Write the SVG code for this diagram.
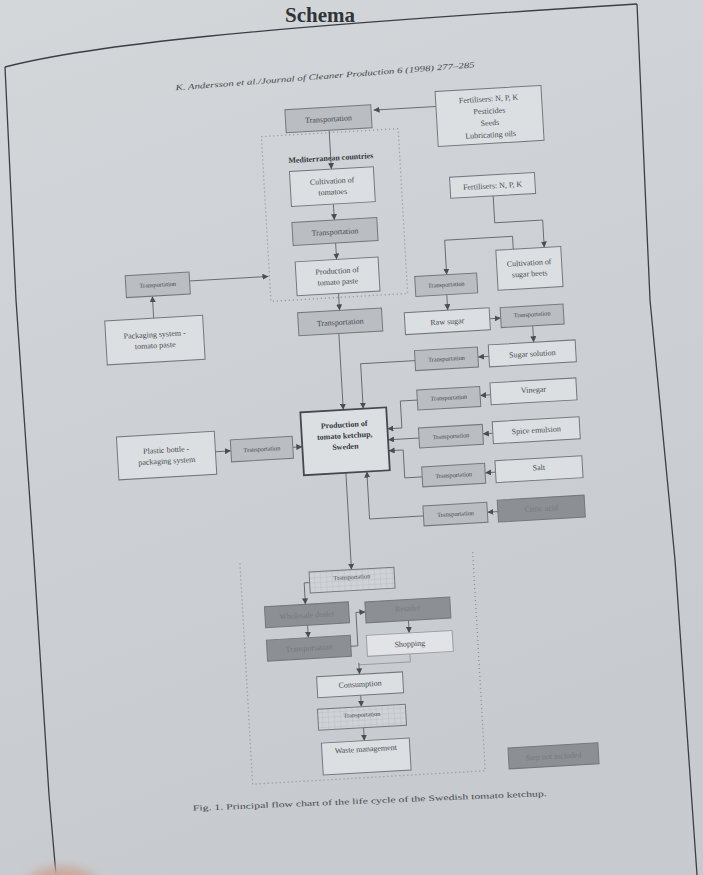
<svg xmlns="http://www.w3.org/2000/svg" width="703" height="875" viewBox="0 0 703 875">
<defs>
<style>
.box{fill:#dcdfe2;stroke:#74777c;stroke-width:1}
.sh{fill:#babdc1;stroke:#74777c;stroke-width:1}
.dk{fill:#8c9095;stroke:#74777c;stroke-width:1}
.hg{fill:url(#grid);stroke:#74777c;stroke-width:1}
.t{font-family:"Liberation Serif","Times New Roman",serif;fill:#46494e;text-anchor:middle;font-size:8px}
.s6{font-size:6.3px}
.dt{fill:#74787e}
.b{font-weight:bold;fill:#36393e}
.c{fill:none;stroke:#606368;stroke-width:0.9}
.ca{fill:none;stroke:#606368;stroke-width:0.9;marker-end:url(#ah)}
.dot{fill:none;stroke:#8c8f94;stroke-width:1.3;stroke-dasharray:1 3}
.frame{fill:none;stroke:#3c3f44;stroke-width:1.3}
</style>
<marker id="ah" viewBox="0 0 10 10" refX="10" refY="5" markerWidth="6" markerHeight="6" markerUnits="userSpaceOnUse" orient="auto">
<path d="M0,0 L10,5 L0,10 z" fill="#4a4d52"/>
</marker>
<pattern id="grid" width="6" height="5" patternUnits="userSpaceOnUse">
<rect width="6" height="5" fill="#cfd2d6"/>
<path d="M0,0 H6 M0,0 V5" stroke="#aeb1b5" stroke-width="0.6"/>
</pattern>
<linearGradient id="bg" x1="0" y1="0" x2="0.3" y2="1">
<stop offset="0" stop-color="#d4d7da"/>
<stop offset="1" stop-color="#c7cace"/>
</linearGradient>
<filter id="blur"><feGaussianBlur stdDeviation="5"/></filter>
</defs>
<rect width="703" height="875" fill="url(#bg)"/>
<text x="320" y="22" font-family="Liberation Serif, serif" font-weight="bold" font-size="21" fill="#303338" text-anchor="middle">Schema</text>
<g id="page-frame">
<path class="frame" d="M5,67 C90,45 250,28 637,4"/>
<path class="frame" d="M637,4 L650,300 L675,560 L697,875"/>
<path class="frame" d="M5,67 L16,300 L34,560 L49,795 L56,875"/>
</g>
<ellipse cx="62" cy="892" rx="40" ry="26" fill="#c9aa9f" filter="url(#blur)"/>

<g id="diagram" transform="rotate(-3.3 350 440)">
<text class="t" x="346" y="78" font-style="italic" font-size="9.5" textLength="300" lengthAdjust="spacingAndGlyphs" transform="rotate(-1.1 346 75)">K. Andersson et al./Journal of Cleaner Production 6 (1998) 277–285</text>

<g id="regions">
<rect class="dot" x="279" y="132" width="137" height="165"/>
<path class="dot" d="M233,557 V778 H466 V557"/>
</g>

<g id="connectors">
<path class="ca" d="M455,112 H392.5"/>
<path class="ca" d="M347,129.5 V168.5"/>
<path class="ca" d="M347,203.5 V219.5"/>
<path class="ca" d="M347,242.5 V259"/>
<path class="ca" d="M347,293 V310"/>
<path class="ca" d="M345,333 V409.5"/>
<path class="ca" d="M199,272 H278"/>
<path class="ca" d="M161,307 V285"/>
<path class="ca" d="M215,444 H230.5"/>
<path class="ca" d="M292.5,444 H302"/>
<path class="ca" d="M507,204.5 V231.5 H555 V259"/>
<path class="ca" d="M524,259 V246 H456 V280.5"/>
<path class="ca" d="M455,300.5 V316"/>
<path class="ca" d="M496.5,327 H507.5"/>
<path class="ca" d="M539,336.5 V353"/>
<path class="ca" d="M493.5,364.5 H482.5"/>
<path class="ca" d="M419.5,364.5 H365 V409.5"/>
<path class="ca" d="M493,403 H482.5"/>
<path class="ca" d="M419.5,404 H402.5 V431 H388"/>
<path class="ca" d="M493,441.5 H483"/>
<path class="ca" d="M419,442 H388"/>
<path class="ca" d="M493.5,480.5 H483"/>
<path class="ca" d="M420,481 H402.5 V453 H388"/>
<path class="ca" d="M493.5,520 H483"/>
<path class="ca" d="M419,520 H365 V472.5"/>
<path class="ca" d="M344,472.5 V569.5"/>
<path class="ca" d="M301.5,580 H296 V601.5"/>
<path class="ca" d="M297,622.5 V635"/>
<path class="ca" d="M339,646 H346 V612.5 H355.5"/>
<path class="ca" d="M398,623.5 V636"/>
<path class="c" d="M397.5,657 V665 H346" stroke-opacity="0.5"/>
<path class="ca" d="M346,663 V674.5"/>
<path class="ca" d="M346,695.5 V707"/>
<path class="ca" d="M347,728 V741"/>
</g>

<text class="t b" x="347" y="160" font-size="10.5">Mediterranean countries</text>

<g id="n_t_top"><rect class="sh" x="304" y="106.5" width="86" height="23"/><text class="t" x="347" y="121">Transportation</text></g>
<g id="n_fert_main"><rect class="box" x="455" y="97" width="106" height="55"/>
<text class="t" x="508" y="110">Fertilisers: N, P, K</text><text class="t" x="508" y="122">Pesticides</text><text class="t" x="508" y="134">Seeds</text><text class="t" x="508" y="146">Lubricating oils</text></g>
<g id="n_cult_tom"><rect class="box" x="305" y="168.5" width="84" height="35"/><text class="t" x="347" y="183">Cultivation of</text><text class="t" x="347" y="194">tomatoes</text></g>
<g id="n_t2"><rect class="sh" x="304.5" y="219.5" width="85" height="23"/><text class="t" x="347" y="234">Transportation</text></g>
<g id="n_paste"><rect class="box" x="305.5" y="259" width="83" height="34"/><text class="t" x="347" y="273">Production of</text><text class="t" x="347" y="284">tomato paste</text></g>
<g id="n_t3"><rect class="sh" x="305" y="310" width="84" height="23"/><text class="t" x="347" y="324.5">Transportation</text></g>
<g id="n_ketchup"><rect x="302" y="409.5" width="86" height="63" fill="#dcdfe2" stroke="#45484d" stroke-width="1.8"/>
<text class="t b" x="345" y="427" font-size="8.5">Production of</text><text class="t b" x="345" y="438" font-size="8.5">tomato ketchup,</text><text class="t b" x="345" y="449" font-size="8.5">Sweden</text></g>
<g id="n_t_left"><rect class="sh" x="135" y="263" width="64" height="22"/><text class="t s6" x="167" y="276">Transportation</text></g>
<g id="n_pack"><rect class="box" x="112" y="307" width="98" height="44"/><text class="t" x="161" y="326">Packaging system -</text><text class="t" x="161" y="337">tomato paste</text></g>
<g id="n_plastic"><rect class="box" x="117" y="423.5" width="98" height="43"/><text class="t" x="166" y="442">Plastic bottle -</text><text class="t" x="166" y="453">packaging system</text></g>
<g id="n_t_plastic"><rect class="sh" x="230.5" y="433" width="62" height="22"/><text class="t s6" x="261.5" y="446">Transportation</text></g>
<g id="n_fert_npk"><rect class="box" x="464.5" y="183.5" width="85" height="21"/><text class="t" x="507" y="197">Fertilisers: N, P, K</text></g>
<g id="n_beets"><rect class="box" x="506.5" y="259" width="65" height="40"/><text class="t" x="539" y="276">Cultivation of</text><text class="t" x="539" y="287">sugar beets</text></g>
<g id="n_t_sb"><rect class="sh" x="424" y="280.5" width="62" height="20"/><text class="t s6" x="455" y="292.5">Transportation</text></g>
<g id="n_raw"><rect class="box" x="411.5" y="316" width="85" height="22"/><text class="t" x="454" y="330">Raw sugar</text></g>
<g id="n_t_rs"><rect class="sh" x="507.5" y="316.5" width="63" height="20"/><text class="t s6" x="539" y="327">Transportation</text></g>
<g id="n_ss"><rect class="box" x="493.5" y="353" width="87" height="22"/><text class="t" x="537" y="367">Sugar solution</text></g>
<g id="n_t_ss"><rect class="sh" x="419.5" y="354.5" width="63" height="20"/><text class="t s6" x="451" y="366.5">Transportation</text></g>
<g id="n_vinegar"><rect class="box" x="493" y="391" width="86" height="22"/><text class="t" x="536" y="403">Vinegar</text></g>
<g id="n_t_v"><rect class="sh" x="419.5" y="394" width="63" height="20"/><text class="t s6" x="451" y="405.5">Transportation</text></g>
<g id="n_spice"><rect class="box" x="493" y="430" width="87" height="22"/><text class="t" x="536.5" y="443.5">Spice emulsion</text></g>
<g id="n_t_sp"><rect class="sh" x="419" y="432" width="64" height="20"/><text class="t s6" x="451" y="444">Transportation</text></g>
<g id="n_salt"><rect class="box" x="493.5" y="469" width="87" height="22"/><text class="t" x="537" y="481">Salt</text></g>
<g id="n_t_salt"><rect class="sh" x="420" y="471" width="63" height="20"/><text class="t s6" x="451.5" y="483">Transportation</text></g>
<g id="n_citric"><rect class="dk" x="493.5" y="508.5" width="87" height="22"/><text class="t dt" x="537" y="522">Citric acid</text></g>
<g id="n_t_ca"><rect class="sh" x="419" y="510" width="64" height="20"/><text class="t s6" x="451" y="522">Transportation</text></g>
<g id="n_t_bot"><rect class="hg" x="301.5" y="569.5" width="85" height="21"/><text class="t s6" x="344" y="579">Transportation</text></g>
<g id="n_whole"><rect class="dk" x="255" y="601.5" width="84" height="21"/><text class="t dt" x="297" y="615">Wholesale dealer</text></g>
<g id="n_t_dark"><rect class="dk" x="255" y="635" width="84" height="21"/><text class="t dt" x="297" y="648">Transportation</text></g>
<g id="n_retail"><rect class="dk" x="355.5" y="602.5" width="85" height="21"/><text class="t dt" x="398" y="614">Retailer</text></g>
<g id="n_shop"><rect x="355" y="636" width="86" height="21" fill="#e1e3e6" stroke="#9a9da2" stroke-width="1"/><text class="t" x="398" y="649.5">Shopping</text></g>
<g id="n_cons"><rect class="box" x="303" y="674.5" width="86" height="21"/><text class="t" x="346" y="687">Consumption</text></g>
<g id="n_t_b2"><rect class="hg" x="302" y="707" width="88" height="21"/><text class="t s6" x="346" y="717">Transportation</text></g>
<g id="n_waste"><rect class="box" x="304" y="741" width="88" height="32"/><text class="t" x="348" y="752">Waste management</text></g>
<g id="n_legend"><rect class="dk" x="490" y="756.5" width="90" height="21"/><text class="t dt" x="535" y="770">Step not included</text></g>

<text class="t" x="349" y="804" font-size="9" textLength="354" lengthAdjust="spacingAndGlyphs" transform="rotate(0.9 349 801)">Fig. 1.   Principal flow chart of the life cycle of the Swedish tomato ketchup.</text>
</g>
</svg>
